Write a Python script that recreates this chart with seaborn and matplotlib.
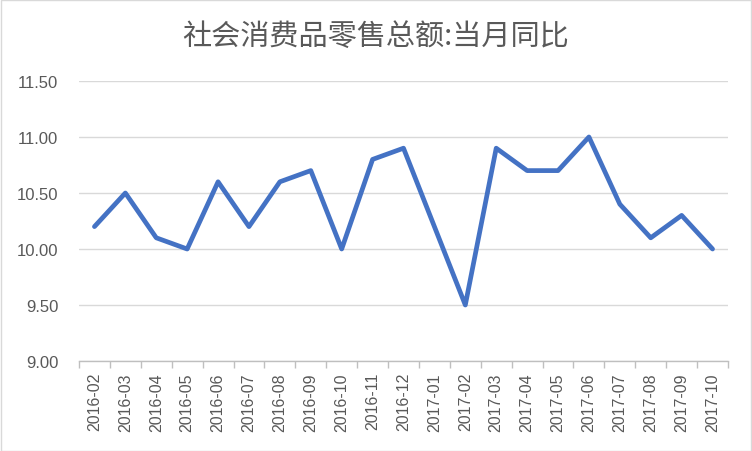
import matplotlib
matplotlib.use("Agg")
import matplotlib.pyplot as plt
import seaborn as sns
import pandas as pd
import numpy as np

months = ["2016-02", "2016-03", "2016-04", "2016-05", "2016-06", "2016-07", "2016-08",
          "2016-09", "2016-10", "2016-11", "2016-12", "2017-01", "2017-02", "2017-03",
          "2017-04", "2017-05", "2017-06", "2017-07", "2017-08", "2017-09", "2017-10"]
values = [10.2, 10.5, 10.1, 10.0, 10.6, 10.2, 10.6, 10.7, 10.0, 10.8, 10.9, 10.2, 9.5,
          10.9, 10.7, 10.7, 11.0, 10.4, 10.1, 10.3, 10.0]
yticks = [9.0, 9.5, 10.0, 10.5, 11.0, 11.5]
title = "社会消费品零售总额:当月同比"

sns.set_theme(style="white")
plt.rcParams['font.family'] = ['Liberation Sans', 'Noto Sans CJK SC', 'DejaVu Sans']

df = pd.DataFrame({"month": months, "value": values})

fig = plt.figure(figsize=(7.52, 4.52), dpi=100)
ax = fig.add_axes([79/752, 90/452, 649/752, 280/452])
sns.lineplot(data=df, x="month", y="value", ax=ax, color="#4472C4", linewidth=3.4,
             sort=False)
for ln in ax.lines:
    ln.set_solid_joinstyle("round")
    ln.set_solid_capstyle("round")

ax.set_xlim(-0.5, len(months) - 0.5)
ax.set_ylim(9.0, 11.5)
ax.set_yticks(yticks)
ax.set_yticklabels([f"{v:.2f}" for v in yticks], color="#595959", fontsize=12)
ax.yaxis.grid(True, color="#D9D9D9", linewidth=1)
ax.set_axisbelow(True)
ax.set_xticks(range(len(months)))
ax.set_xticklabels(months, rotation=90, color="#595959", fontsize=11.5)
ax.set_xticks(np.arange(-0.5, len(months), 1.0), minor=True)
ax.tick_params(axis="x", which="major", length=0, pad=8)
ax.tick_params(axis="x", which="minor", length=5, color="#BFBFBF", width=1, bottom=True)
ax.tick_params(axis="y", length=0, pad=15)
ax.set_xlabel("")
ax.set_ylabel("")
for s in ["left", "right", "top"]:
    ax.spines[s].set_visible(False)
ax.spines["bottom"].set_color("#BFBFBF")
ax.spines["bottom"].set_linewidth(1)

fig.text(0.5, 1 - 37/452, title, ha="center", va="center", fontsize=21, color="#595959",
         family=['Noto Sans CJK SC', 'DejaVu Sans'])

border = plt.Rectangle((0.001, 0.001), 0.998, 0.997, transform=fig.transFigure,
                       fill=False, edgecolor="#D9D9D9", linewidth=1)
fig.patches.append(border)

fig.savefig("out.png", dpi=100)
